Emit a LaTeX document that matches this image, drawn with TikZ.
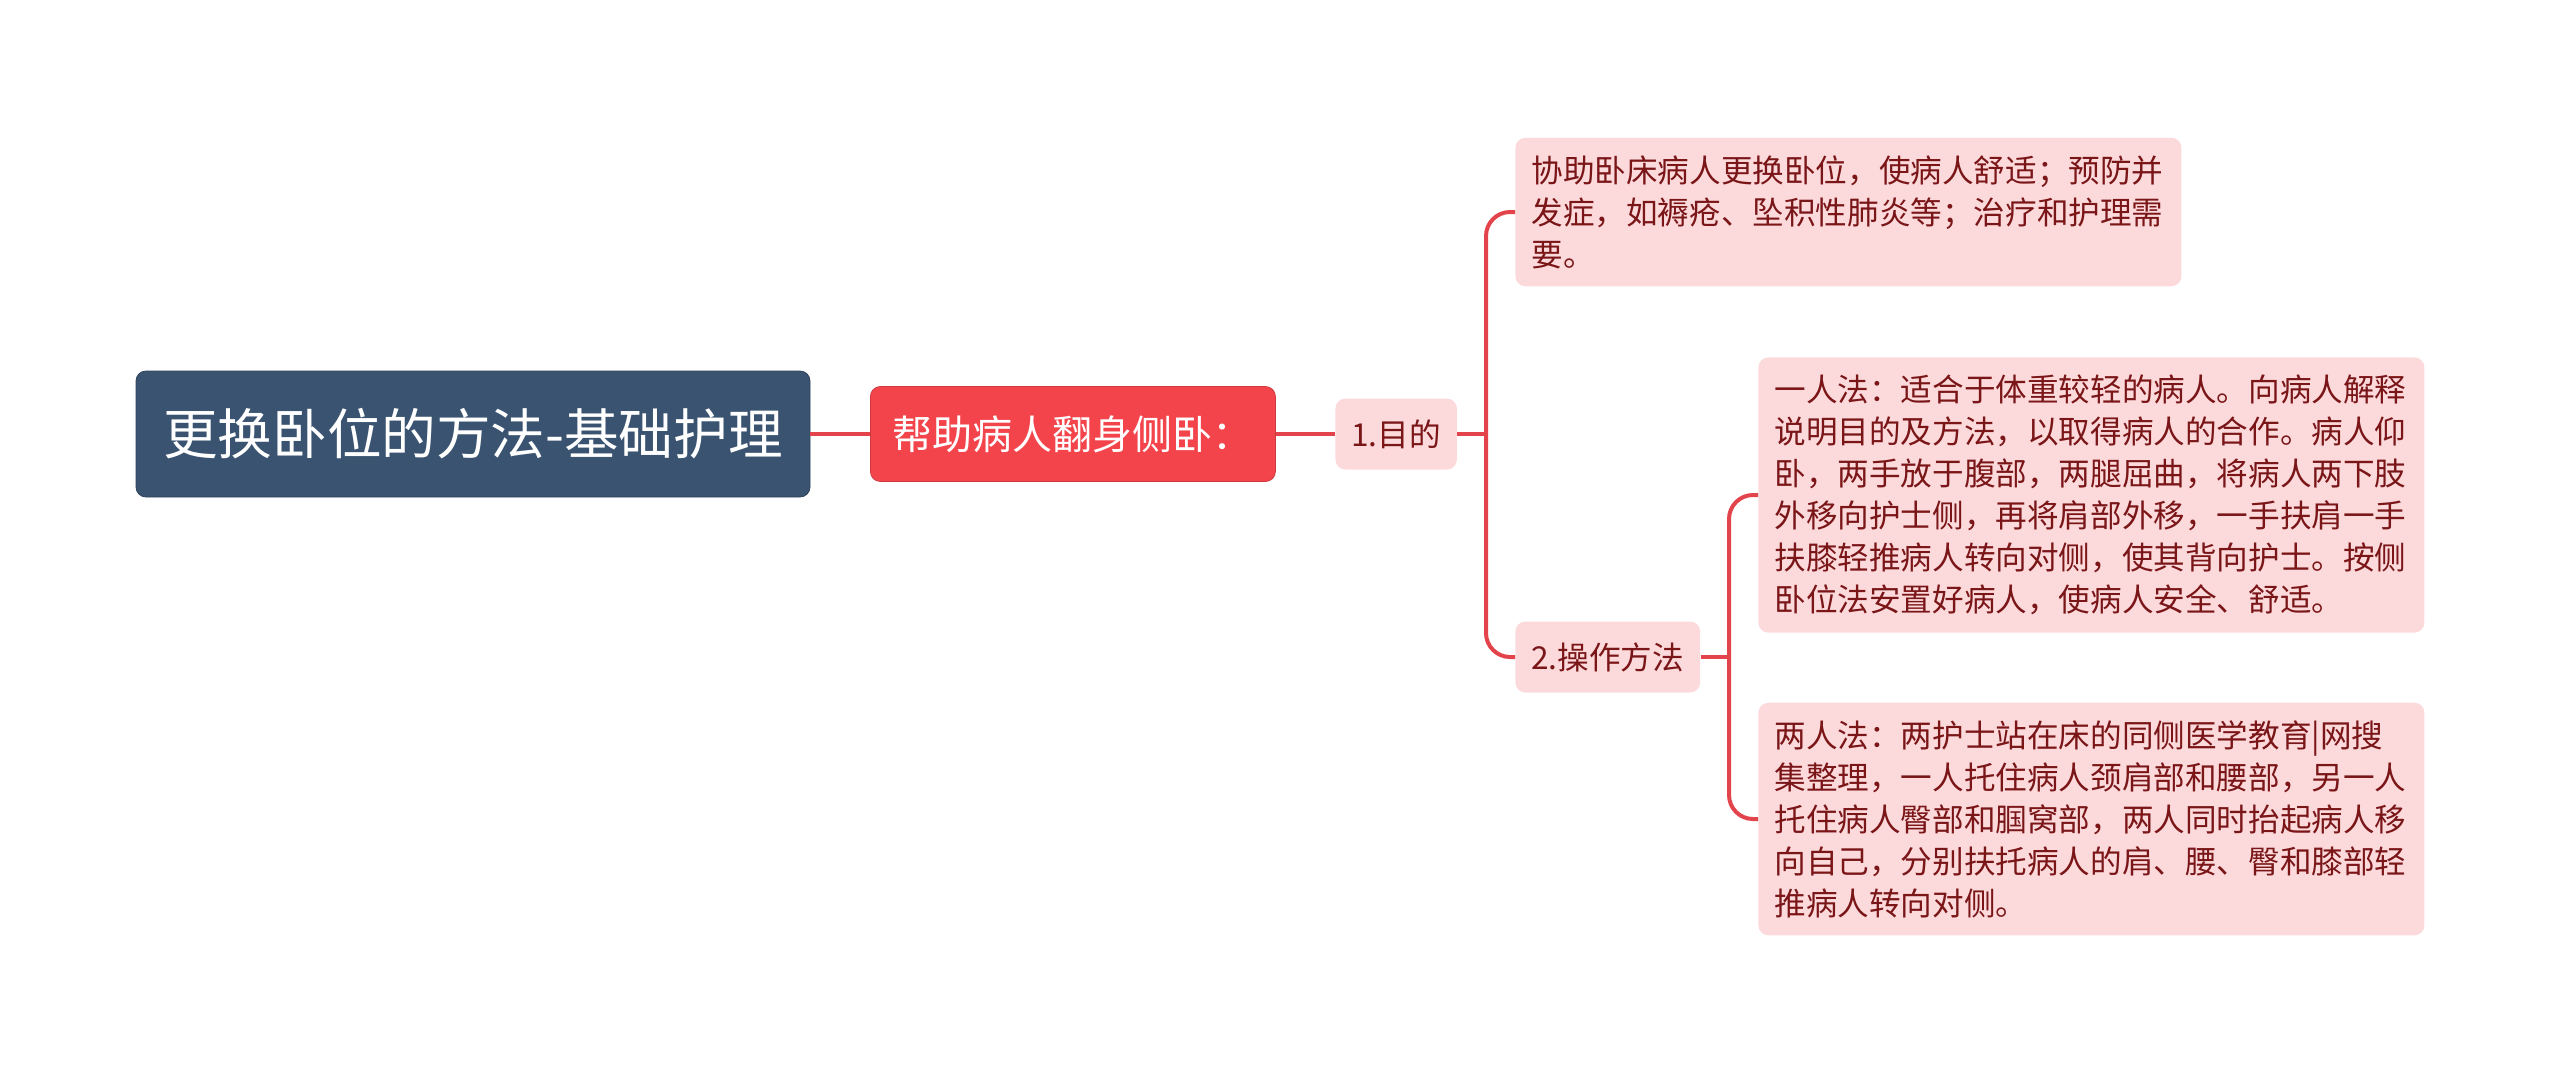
\documentclass[tikz,border=0pt]{standalone}
\usepackage{fontspec}
\newfontfamily\cjk{Noto Sans CJK SC}
\definecolor{slate}{HTML}{3A5370}
\definecolor{coral}{HTML}{F4444B}
\definecolor{blush}{HTML}{FCDADB}
\definecolor{wine}{HTML}{7A1518}
\definecolor{wire}{HTML}{E3444B}

\tikzset{
  rootbox/.style={fill=slate,draw=slate!80!black,rounded corners=5pt,text=white,
    minimum width=337pt,minimum height=63pt,inner sep=0pt,
    font=\cjk\fontsize{27.3}{30}\selectfont},
  mainbox/.style={fill=coral,draw=coral!85!black,rounded corners=5pt,text=white,anchor=west,
    minimum width=202.5pt,minimum height=47.5pt,inner sep=0pt,
    font=\cjk\fontsize{20}{24}\selectfont},
  subbox/.style={fill=blush,rounded corners=5pt,text=wine,anchor=west,
    minimum height=35.5pt,inner xsep=8pt,inner ysep=0pt,
    font=\cjk\fontsize{15.8}{21}\selectfont},
  leafbox/.style={fill=blush,rounded corners=5pt,text=wine,anchor=west,align=left,
    text width=317pt,inner xsep=8pt,inner ysep=8.8pt,
    font=\cjk\fontsize{15.8}{21}\selectfont},
  wirelink/.style={draw=wire,line width=2pt,rounded corners=12pt}
}

\begin{document}
\begin{tikzpicture}[x=0.5pt,y=-0.5pt]
  \useasboundingbox (0,0) rectangle (2560,1073);

  \node[rootbox] (root) at (473,434) {更换卧位的方法-基础护理};
  \node[mainbox] (help) at (870,434) {帮助病人翻身侧卧：};
  \node[subbox] (goal) at (1335,434) {1.目的};
  \node[subbox] (method) at (1515,657) {2.操作方法};

  \node[leafbox] (aim) at (1515,212)
    {协助卧床病人更换卧位，使病人舒适；预防并\\发症，如褥疮、坠积性肺炎等；治疗和护理需\\要。};
  \node[leafbox] (single) at (1758,495)
    {一人法：适合于体重较轻的病人。向病人解释\\说明目的及方法，以取得病人的合作。病人仰\\卧，两手放于腹部，两腿屈曲，将病人两下肢\\外移向护士侧，再将肩部外移，一手扶肩一手\\扶膝轻推病人转向对侧，使其背向护士。按侧\\卧位法安置好病人，使病人安全、舒适。};
  \node[leafbox] (double) at (1758,819)
    {两人法：两护士站在床的同侧医学教育|网搜\\集整理，一人托住病人颈肩部和腰部，另一人\\托住病人臀部和腘窝部，两人同时抬起病人移\\向自己，分别扶托病人的肩、腰、臀和膝部轻\\推病人转向对侧。};

  % connectors
  \coordinate (j1) at (1486,434);
  \coordinate (j2) at (1729,657);
  \draw[wirelink] (root.east) -- (help.west);
  \draw[wirelink] (help.east) -- (goal.west);
  \draw[wirelink] (goal.east) -- (j1);
  \draw[wirelink] (j1) |- (aim.west);
  \draw[wirelink] (j1) |- (method.west);
  \draw[wirelink] (method.east) -- (j2);
  \draw[wirelink] (j2) |- (single.west);
  \draw[wirelink] (j2) |- (double.west);
\end{tikzpicture}
\end{document}
